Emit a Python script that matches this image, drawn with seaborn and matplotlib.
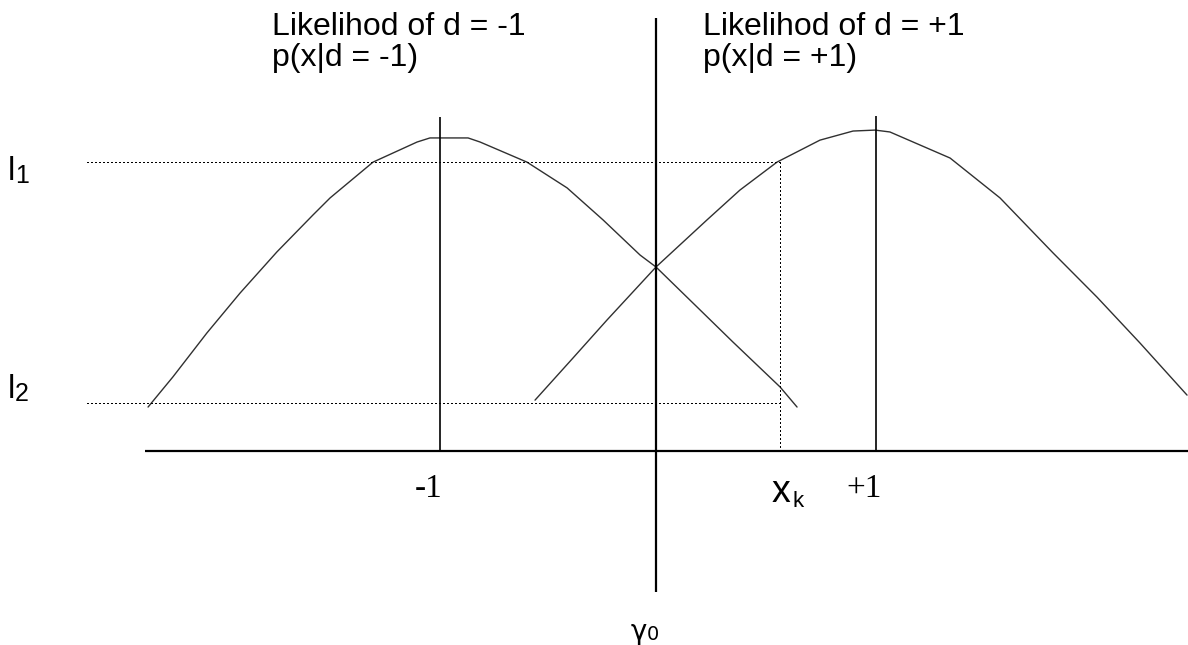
import matplotlib
matplotlib.use("Agg")
import matplotlib.pyplot as plt
import seaborn as sns
import numpy as np
import pandas as pd

# ---------------- data (x: -1/+1 decision units, y: peak ~ 1) -------------
left_x = [-2.330, -2.216, -2.060, -1.908, -1.739, -1.573, -1.495, -1.298, -1.096, -1.037,
          -0.862, -0.807, -0.592, -0.408, -0.243, -0.073, 0.000, 0.170, 0.353, 0.569, 0.647]
left_y = [0.140, 0.236, 0.376, 0.503, 0.634, 0.752, 0.806, 0.920, 0.984, 0.997,
          0.997, 0.984, 0.920, 0.838, 0.736, 0.624, 0.586, 0.471, 0.347, 0.204, 0.140]

right_x = [-0.555, -0.381, -0.225, 0.000, 0.234, 0.385, 0.555, 0.752, 0.904, 1.005,
           1.073, 1.349, 1.578, 1.821, 2.023, 2.220, 2.436]
right_y = [0.162, 0.296, 0.417, 0.586, 0.736, 0.831, 0.920, 0.990, 1.019, 1.022,
           1.016, 0.933, 0.806, 0.631, 0.490, 0.344, 0.178]

peak_x = [-0.991, 1.009]          # vertical lines at the two means
peak_top = [1.064, 1.067]
threshold_x = 0.0                 # gamma_0
threshold_span = [-0.449, 1.379]
axis_span = [-2.344, 2.440]
l1 = 0.920
l2 = 0.153
x_k = 0.569
level_start = -2.610

titles_left = ["Likelihod of d = -1", "p(x|d = -1)"]
titles_right = ["Likelihod of d = +1", "p(x|d = +1)"]
tick_labels = ["-1", "+1"]

# ---------------- figure ----------------
sns.set_theme(style="white")
plt.rcParams["font.family"] = ["Liberation Sans", "DejaVu Sans"]
plt.rcParams["text.color"] = "black"

W, H = 1188, 645
fig = plt.figure(figsize=(W / 100, H / 100), dpi=100)
ax = fig.add_axes([0, 0, 1, 1])
X0, XS = 656, 218.0
Y0, YS = 451, 314.0
ax.set_xlim((0 - X0) / XS, (W - X0) / XS)
ax.set_ylim((Y0 - H) / YS, Y0 / YS)
ax.axis("off")


def px(xp, yp):
    return (xp - X0) / XS, (Y0 - yp) / YS


curve_color = "#303030"
df_left = pd.DataFrame({"x": left_x, "y": left_y})
df_right = pd.DataFrame({"x": right_x, "y": right_y})
sns.lineplot(data=df_left, x="x", y="y", sort=False, ax=ax, color=curve_color, lw=1.0)
sns.lineplot(data=df_right, x="x", y="y", sort=False, ax=ax, color=curve_color, lw=1.0)

# horizontal axis
ax.plot(axis_span, [0, 0], color="black", lw=1.6, solid_capstyle="butt")
# threshold line
ax.plot([threshold_x, threshold_x], threshold_span, color="black", lw=1.6, solid_capstyle="butt")
# mean lines
for xm, top in zip(peak_x, peak_top):
    ax.plot([xm, xm], [0, top], color="black", lw=1.2, solid_capstyle="butt")

# dotted level lines
dot = dict(color="black", lw=0.75, linestyle=(0, (1.4, 2.6)), antialiased=False)
ax.plot([level_start, x_k], [l1, l1], **dot)
ax.plot([level_start, x_k], [l2, l2], **dot)
ax.plot([x_k, x_k], [0, l1], **dot)

# ---------------- text ----------------
fs = 23
ax.text(*px(272, 35), titles_left[0], fontsize=fs, va="baseline", ha="left")
ax.text(*px(272, 66), titles_left[1], fontsize=fs, va="baseline", ha="left")
ax.text(*px(703, 35), titles_right[0], fontsize=fs, va="baseline", ha="left")
ax.text(*px(703, 66), titles_right[1], fontsize=fs, va="baseline", ha="left")

# l1, l2
ax.text(*px(8, 180), "l", fontsize=24, va="baseline", ha="left")
ax.text(*px(15, 183), "1", fontsize=18, va="baseline", ha="left")
ax.text(*px(8, 398), "l", fontsize=24, va="baseline", ha="left")
ax.text(*px(15, 401), "2", fontsize=18, va="baseline", ha="left")

# tick labels in serif
serif = ["Liberation Serif", "DejaVu Serif"]
ax.text(*px(429, 497), tick_labels[0], fontsize=24, va="baseline", ha="center", family=serif)
ax.text(*px(846, 497), tick_labels[1], fontsize=24, va="baseline", ha="left", family=serif)

# x_k
ax.text(*px(772, 502), "x", fontsize=27, va="baseline", ha="left")
ax.text(*px(793, 507), "k", fontsize=16, va="baseline", ha="left")

# gamma_0
ax.text(*px(631, 640), "γ", fontsize=20, va="baseline", ha="left", family=["DejaVu Sans"])
ax.text(*px(647, 640), "0", fontsize=14, va="baseline", ha="left", family=["DejaVu Sans"])

fig.savefig("out.png", dpi=100, facecolor="white")
